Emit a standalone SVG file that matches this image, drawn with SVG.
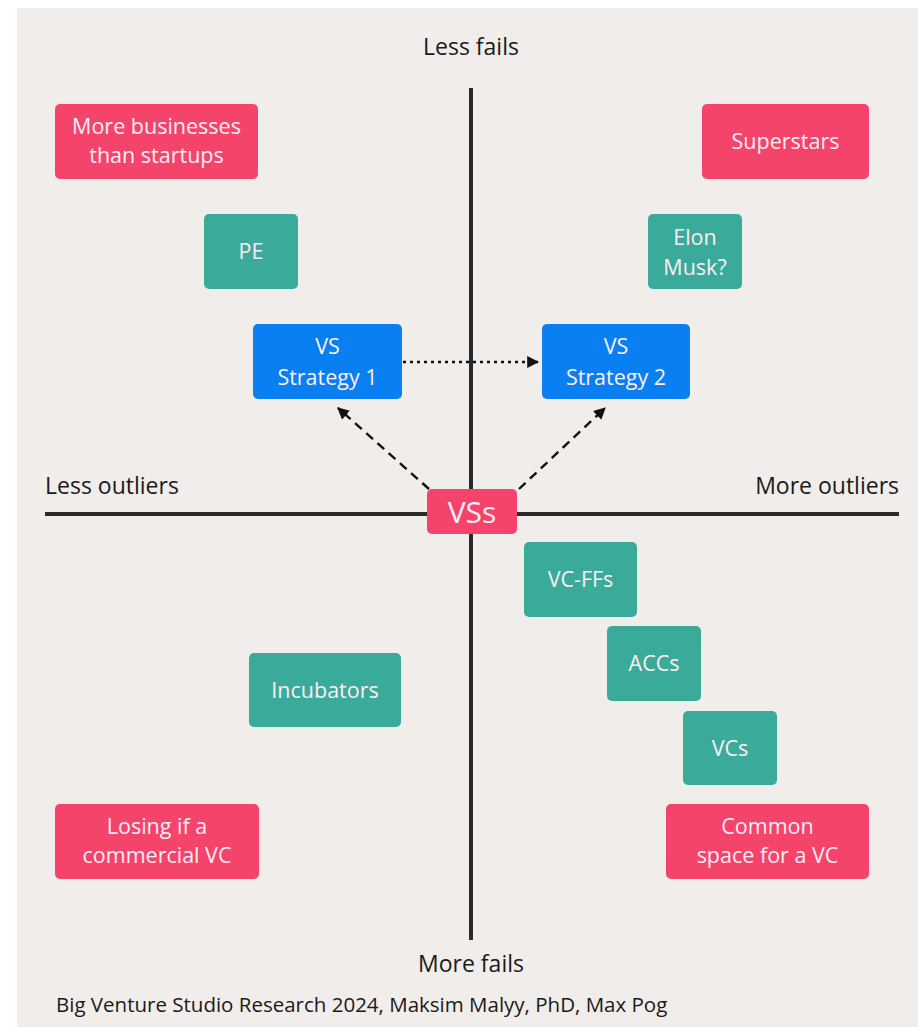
<svg xmlns="http://www.w3.org/2000/svg" width="918" height="1027" viewBox="0 0 918 1027">
<style>
text{font-family:"Open Sans","Noto Sans","Liberation Sans",sans-serif;}
.ax{fill:#1a1a1a;font-size:23px;}
.lbl{fill:#fdeef2;font-size:21.5px;text-anchor:middle;}
.big{font-size:30px;}
.pink{fill:#f5446c;}
.teal{fill:#3aab9a;}
.blue{fill:#0a7ff2;}
.axis{stroke:#2b2b2b;stroke-width:4;}
.conn{stroke:#111;stroke-width:2.4;fill:none;}
</style>
<defs>
<marker id="ah" viewBox="0 0 10 10" refX="9" refY="5" markerWidth="5" markerHeight="5" orient="auto-start-reverse" markerUnits="strokeWidth">
<path d="M0,0 L10,5 L0,10 z" fill="#111"/>
</marker>
</defs>
<rect width="918" height="1027" fill="#ffffff"/>
<rect x="17" y="8" width="901" height="1019" fill="#f1edea"/>
<g id="axes">
<line class="axis" x1="471" y1="88" x2="471" y2="940"/>
<line class="axis" x1="45" y1="514" x2="899" y2="514"/>
<text class="ax" x="471" y="55" text-anchor="middle">Less fails</text>
<text class="ax" x="471" y="972" text-anchor="middle">More fails</text>
<text class="ax" x="45" y="494">Less outliers</text>
<text class="ax" x="899" y="494" text-anchor="end">More outliers</text>
<text x="56" y="1012" fill="#1a1a1a" font-size="20.5">Big Venture Studio Research 2024, Maksim Malyy, PhD, Max Pog</text>
</g>
<g id="connectors">
<line class="conn" x1="403" y1="362" x2="538" y2="362" stroke-dasharray="3,4" marker-end="url(#ah)"/>
<line class="conn" x1="429" y1="489" x2="338" y2="408" stroke-dasharray="9,6" marker-end="url(#ah)"/>
<line class="conn" x1="519" y1="489" x2="605" y2="408" stroke-dasharray="9,6" marker-end="url(#ah)"/>
</g>
<g id="n-more-businesses"><rect class="pink" x="55" y="104" width="203" height="75" rx="5"/><text class="lbl" x="156.5" y="134">More businesses</text><text class="lbl" x="156.5" y="163">than startups</text></g>
<g id="n-pe"><rect class="teal" x="204" y="214" width="94" height="75" rx="5"/><text class="lbl" x="251" y="259">PE</text></g>
<g id="n-superstars"><rect class="pink" x="702" y="104" width="167" height="75" rx="5"/><text class="lbl" x="785.5" y="149">Superstars</text></g>
<g id="n-elon"><rect class="teal" x="648" y="214" width="94" height="75" rx="5"/><text class="lbl" x="695" y="245">Elon</text><text class="lbl" x="695" y="275">Musk?</text></g>
<g id="n-vs1"><rect class="blue" x="253" y="324" width="149" height="75" rx="5"/><text class="lbl" x="327.5" y="354">VS</text><text class="lbl" x="327.5" y="385">Strategy 1</text></g>
<g id="n-vs2"><rect class="blue" x="542" y="324" width="148" height="75" rx="5"/><text class="lbl" x="616" y="354">VS</text><text class="lbl" x="616" y="385">Strategy 2</text></g>
<g id="n-vss"><rect class="pink" x="427" y="489" width="90" height="45" rx="5"/><text class="lbl big" x="472" y="523">VSs</text></g>
<g id="n-vcffs"><rect class="teal" x="524" y="542" width="113" height="75" rx="5"/><text class="lbl" x="580.5" y="587">VC-FFs</text></g>
<g id="n-accs"><rect class="teal" x="607" y="626" width="94" height="75" rx="5"/><text class="lbl" x="654" y="671">ACCs</text></g>
<g id="n-vcs"><rect class="teal" x="683" y="711" width="94" height="74" rx="5"/><text class="lbl" x="730" y="756">VCs</text></g>
<g id="n-incubators"><rect class="teal" x="249" y="653" width="152" height="74" rx="5"/><text class="lbl" x="325" y="698">Incubators</text></g>
<g id="n-losing"><rect class="pink" x="55" y="804" width="204" height="75" rx="5"/><text class="lbl" x="157" y="834">Losing if a</text><text class="lbl" x="157" y="863">commercial VC</text></g>
<g id="n-common"><rect class="pink" x="666" y="804" width="203" height="75" rx="5"/><text class="lbl" x="767.5" y="834">Common</text><text class="lbl" x="767.5" y="863">space for a VC</text></g>
</svg>
